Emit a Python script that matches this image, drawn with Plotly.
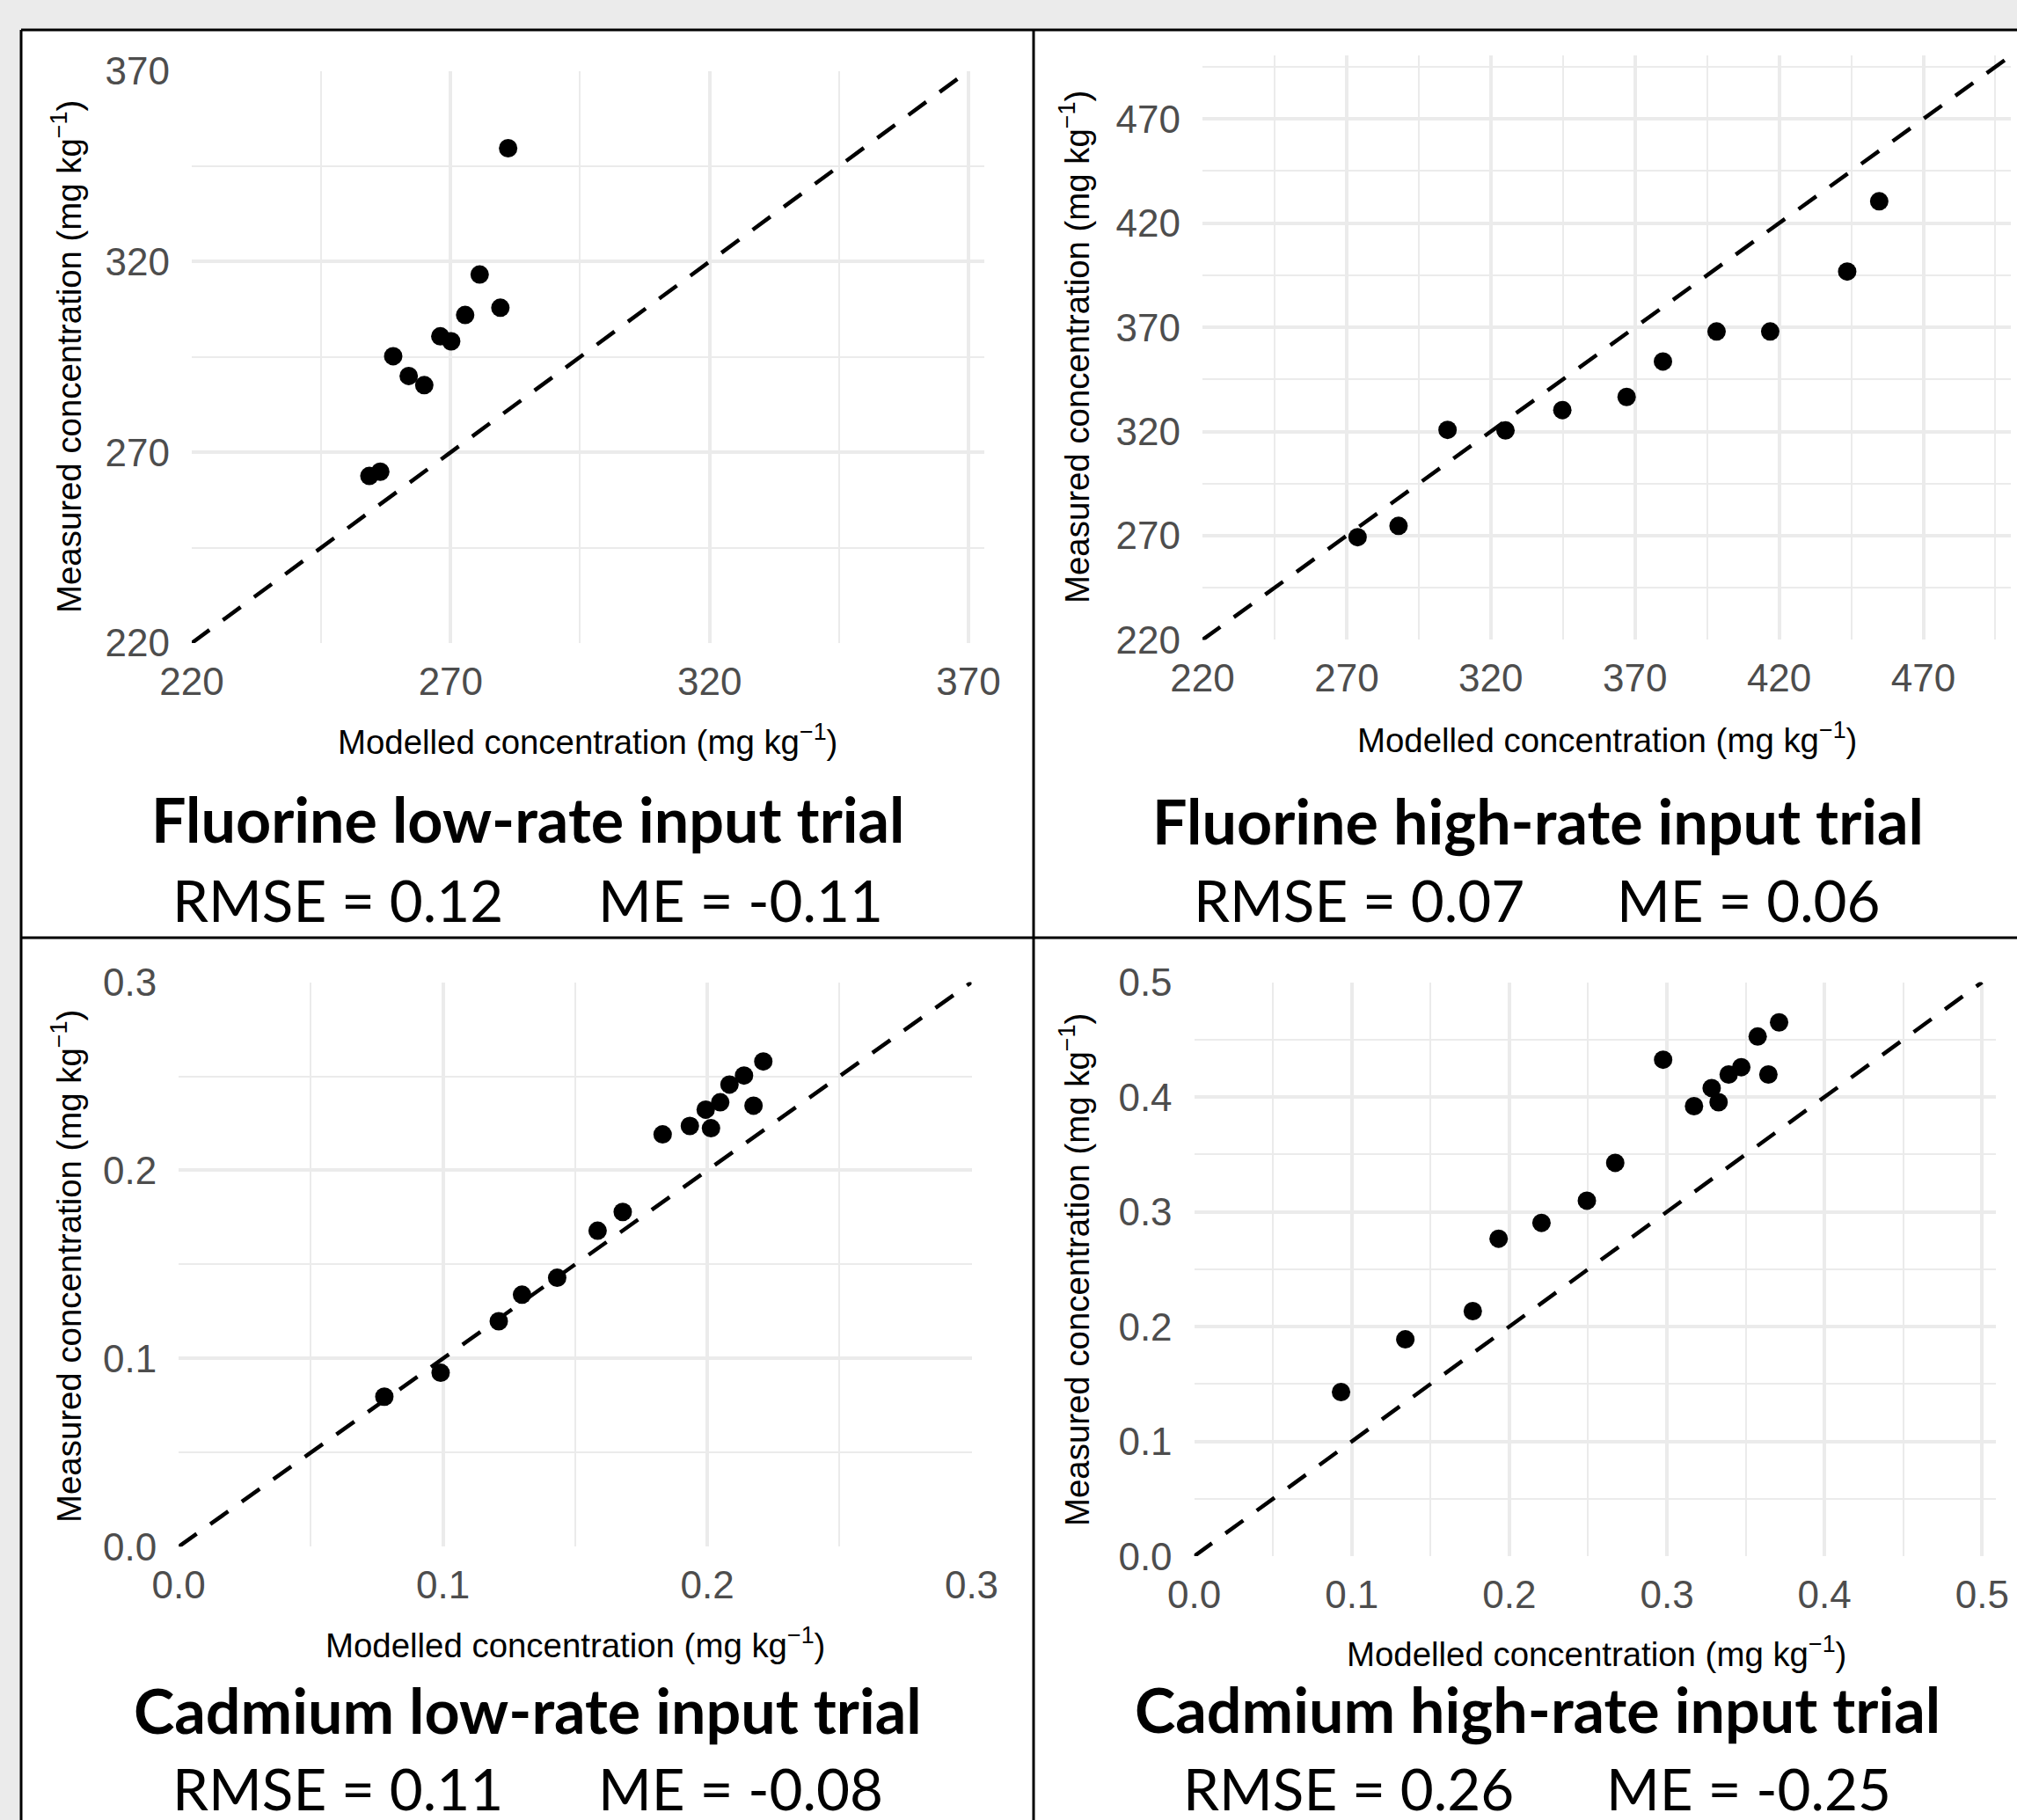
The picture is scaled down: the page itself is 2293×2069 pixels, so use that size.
import plotly.graph_objects as go

W, H = 2293, 2069

# ---------------- data ----------------
fl_low_modelled = [281.1, 275.6, 279.6, 272.8, 268.0, 270.1, 258.9, 261.9, 264.9, 254.3, 256.4]
fl_low_measured = [349.7, 316.6, 307.9, 306.0, 300.4, 299.1, 295.2, 290.0, 287.6, 263.8, 264.9]

fl_high_modelled = [273.8, 288.0, 305.0, 325.1, 344.8, 367.1, 379.7, 398.3, 416.9, 443.6, 454.7]
fl_high_measured = [269.3, 274.7, 320.8, 320.5, 330.3, 336.6, 353.6, 368.0, 368.0, 396.8, 430.5]

cd_low_modelled = [0.0778, 0.0991, 0.1211, 0.1299, 0.1432, 0.1585, 0.1680, 0.1831,
                   0.1934, 0.2014, 0.1994, 0.2049, 0.2084, 0.2139, 0.2175, 0.2212]
cd_low_measured = [0.0797, 0.0924, 0.1198, 0.1339, 0.1429, 0.1679, 0.1779, 0.2191,
                   0.2236, 0.2224, 0.2323, 0.2362, 0.2456, 0.2504, 0.2344, 0.2579]

cd_high_modelled = [0.0932, 0.1340, 0.1768, 0.1932, 0.2204, 0.2492, 0.2672, 0.2976,
                    0.3172, 0.3284, 0.3328, 0.3392, 0.3472, 0.3576, 0.3644, 0.3712]
cd_high_measured = [0.1430, 0.1889, 0.2135, 0.2766, 0.2904, 0.3097, 0.3427, 0.4325,
                    0.3920, 0.4078, 0.3955, 0.4196, 0.4260, 0.4527, 0.4196, 0.4650]

fl_low_ticks = [220, 270, 320, 370]
fl_high_ticks = [220, 270, 320, 370, 420, 470]
cd_low_ticks = [0.0, 0.1, 0.2, 0.3]
cd_high_ticks = [0.0, 0.1, 0.2, 0.3, 0.4, 0.5]

fl_low_ticklabels = ["220", "270", "320", "370"]
fl_high_ticklabels = ["220", "270", "320", "370", "420", "470"]
cd_low_ticklabels = ["0.0", "0.1", "0.2", "0.3"]
cd_high_ticklabels = ["0.0", "0.1", "0.2", "0.3", "0.4", "0.5"]

# 1:1 line limits
fl_low_identity = [220, 370]
fl_high_identity = [220, 500]
cd_low_identity = [0.0, 0.3]
cd_high_identity = [0.0, 0.5]

titles = ["Fluorine low-rate input trial", "Fluorine high-rate input trial",
          "Cadmium low-rate input trial", "Cadmium high-rate input trial"]
rmse_texts = ["RMSE = 0.12", "RMSE = 0.07", "RMSE = 0.11", "RMSE = 0.26"]
me_texts = ["ME = -0.11", "ME = 0.06", "ME = -0.08", "ME = -0.25"]

x_title = "Modelled concentration (mg kg<sup>\u22121</sup>)"
y_title = "Measured concentration (mg kg<sup>\u22121</sup>)"

# ---------------- layout helpers ----------------
def px_x(p):
    return p / W


def px_y(p):
    return 1 - p / H


panels = [
    dict(mx=fl_low_modelled, my=fl_low_measured, ticks=fl_low_ticks, labels=fl_low_ticklabels,
         ident=fl_low_identity, xr=[220, 373.06], yr=[220, 370],
         dom_x=(218, 1119), dom_y=(80.5, 731), minor=[245, 295, 345]),
    dict(mx=fl_high_modelled, my=fl_high_measured, ticks=fl_high_ticks, labels=fl_high_ticklabels,
         ident=fl_high_identity, xr=[220, 500.2], yr=[220, 500.5],
         dom_x=(1367, 2285.5), dom_y=(63, 727.4), minor=[245, 295, 345, 395, 445, 495]),
    dict(mx=cd_low_modelled, my=cd_low_measured, ticks=cd_low_ticks, labels=cd_low_ticklabels,
         ident=cd_low_identity, xr=[0, 0.3], yr=[0, 0.3],
         dom_x=(203.2, 1104.5), dom_y=(1116.6, 1758.2), minor=[0.05, 0.15, 0.25]),
    dict(mx=cd_high_modelled, my=cd_high_measured, ticks=cd_high_ticks, labels=cd_high_ticklabels,
         ident=cd_high_identity, xr=[0, 0.509], yr=[0, 0.5],
         dom_x=(1357.6, 2269.4), dom_y=(1116.6, 1769.1), minor=[0.05, 0.15, 0.25, 0.35, 0.45]),
]

title_pos = [(600, 931), (1748, 933), (600, 1944), (1748, 1943)]
rmse_pos = [(383.5, 1022), (1544.5, 1022), (383.5, 2032), (1533, 2032)]
me_pos = [(841.5, 1022), (1988, 1022), (841.5, 2032), (1987.5, 2032)]
xt_pos = [(668, 841), (1827, 839), (654, 1868), (1815, 1878)]
yt_pos = [(76, 406), (1222, 395), (76, 1440), (1222, 1444)]

GRID = "#ebebeb"
TICKFONT = dict(family="Liberation Sans, Arial, sans-serif", size=44, color="#4d4d4d")
AXFONT = dict(family="Liberation Sans, Arial, sans-serif", size=38.4, color="#000000")
TITLEFONT = dict(family="Lato, Carlito, sans-serif", size=70, color="#000000", weight="bold")
STATFONT = dict(family="Lato, Carlito, sans-serif", size=65.5, color="#000000")

fig = go.Figure()
layout = dict(
    width=W, height=H,
    autosize=False,
    margin=dict(l=0, r=0, t=0, b=0, pad=0, autoexpand=False),
    paper_bgcolor="#ebebeb",
    plot_bgcolor="rgba(0,0,0,0)",
    showlegend=False,
    shapes=[],
    annotations=[],
)

for i, p in enumerate(panels):
    n = i + 1
    xa = "x" if n == 1 else f"x{n}"
    ya = "y" if n == 1 else f"y{n}"
    # identity (1:1) line
    fig.add_trace(go.Scatter(
        x=p["ident"], y=p["ident"], mode="lines", xaxis=xa, yaxis=ya,
        line=dict(color="black", width=4.5, dash="25px,19px"), hoverinfo="skip"))
    # points
    fig.add_trace(go.Scatter(
        x=p["mx"], y=p["my"], mode="markers", xaxis=xa, yaxis=ya,
        marker=dict(color="black", size=21, line=dict(width=0))))

    axis_common = dict(
        showgrid=True, gridcolor=GRID, gridwidth=3.5, zeroline=False, showline=False,
        automargin=False,
        ticks="", tickmode="array", tickvals=p["ticks"], ticktext=p["labels"],
        tickfont=TICKFONT,
        minor=dict(tickmode="array", tickvals=p["minor"], showgrid=True, gridcolor=GRID,
                   gridwidth=2, ticks=""),
    )
    layout["xaxis" if n == 1 else f"xaxis{n}"] = dict(
        axis_common, domain=[px_x(p["dom_x"][0]), px_x(p["dom_x"][1])],
        range=p["xr"], anchor=ya, ticklabelstandoff=14)
    layout["yaxis" if n == 1 else f"yaxis{n}"] = dict(
        axis_common, domain=[px_y(p["dom_y"][1]), px_y(p["dom_y"][0])],
        range=p["yr"], anchor=xa, ticklabelstandoff=24)

    ann = layout["annotations"]
    ann.append(dict(text=f"<b>{titles[i]}</b>", x=px_x(title_pos[i][0]), y=px_y(title_pos[i][1]),
                    xref="paper", yref="paper", xanchor="center", yanchor="middle",
                    showarrow=False, font=TITLEFONT))
    ann.append(dict(text=rmse_texts[i], x=px_x(rmse_pos[i][0]), y=px_y(rmse_pos[i][1]),
                    xref="paper", yref="paper", xanchor="center", yanchor="middle",
                    showarrow=False, font=STATFONT))
    ann.append(dict(text=me_texts[i], x=px_x(me_pos[i][0]), y=px_y(me_pos[i][1]),
                    xref="paper", yref="paper", xanchor="center", yanchor="middle",
                    showarrow=False, font=STATFONT))
    ann.append(dict(text=x_title, x=px_x(xt_pos[i][0]), y=px_y(xt_pos[i][1]),
                    xref="paper", yref="paper", xanchor="center", yanchor="middle",
                    showarrow=False, font=AXFONT))
    ann.append(dict(text=y_title, x=px_x(yt_pos[i][0]), y=px_y(yt_pos[i][1]),
                    xref="paper", yref="paper", xanchor="center", yanchor="middle",
                    showarrow=False, font=AXFONT, textangle=-90))

# frame: white sheet with black top/left border and dividers (kept inside the paper)
BLK = dict(color="black", width=3)
layout["shapes"] = [
    dict(type="rect", xref="paper", yref="paper", layer="below",
         x0=px_x(24), x1=1, y0=0, y1=px_y(34),
         fillcolor="white", line=dict(width=0)),
    dict(type="line", xref="paper", yref="paper", layer="above",
         x0=px_x(24), x1=1, y0=px_y(34), y1=px_y(34), line=BLK),
    dict(type="line", xref="paper", yref="paper", layer="above",
         x0=px_x(24), x1=px_x(24), y0=0, y1=px_y(34), line=BLK),
    dict(type="line", xref="paper", yref="paper", layer="above",
         x0=px_x(1175), x1=px_x(1175), y0=0, y1=px_y(34), line=BLK),
    dict(type="line", xref="paper", yref="paper", layer="above",
         x0=px_x(24), x1=1, y0=px_y(1066), y1=px_y(1066), line=BLK),
]

fig.update_layout(**layout)
fig.write_html("out.html", config={"displayModeBar": False},
               post_script="document.body.style.margin='0';")
